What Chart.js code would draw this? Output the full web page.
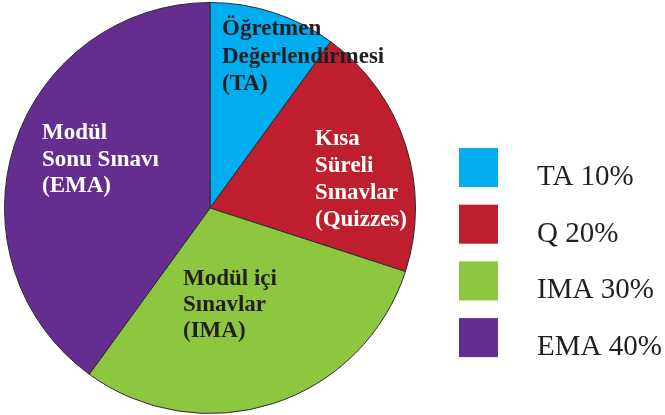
<!DOCTYPE html>
<html>
<head>
<meta charset="utf-8">
<script src="https://cdn.jsdelivr.net/npm/chart.js@4"></script>
<style>
  html, body { margin: 0; padding: 0; background: #fff; }
  #wrap { width: 665px; height: 415px; position: relative; }
</style>
</head>
<body>
<div id="wrap"><canvas id="pie"></canvas></div>
<script>
(function () {
  "use strict";

  // ── Data ──────────────────────────────────────────────
  var categories = ["TA", "Q", "IMA", "EMA"];
  var shares = [10, 20, 30, 40];
  var sliceLabels = [
    ["Öğretmen", "Değerlendirmesi", "(TA)"],
    ["Kısa", "Süreli", "Sınavlar", "(Quizzes)"],
    ["Modül içi", "Sınavlar", "(IMA)"],
    ["Modül", "Sonu Sınavı", "(EMA)"]
  ];

  // ── Styling / layout ──────────────────────────────────
  var colors = ["#00aeef", "#be1e2d", "#8dc63f", "#662d91"];
  var labelInk = ["#231f20", "#ffffff", "#231f20", "#ffffff"];
  // offsets of first baseline from pie centre, and line height
  var labelPlace = [
    { dx: 12, dy: -173, lh: 27.5 },
    { dx: 105, dy: -63, lh: 27 },
    { dx: -27, dy: 77, lh: 26 },
    { dx: -168, dy: -69, lh: 26.5 }
  ];
  var serif = '"Liberation Serif", "Times New Roman", serif';

  var sliceText = {
    id: "sliceText",
    afterDatasetsDraw: function (chart) {
      var ctx = chart.ctx;
      var arcs = chart.getDatasetMeta(0).data;
      ctx.save();
      ctx.font = "bold 23px " + serif;
      ctx.textAlign = "left";
      ctx.textBaseline = "alphabetic";
      arcs.forEach(function (arc, i) {
        var p = labelPlace[i];
        ctx.fillStyle = labelInk[i];
        sliceLabels[i].forEach(function (line, j) {
          ctx.fillText(line, arc.x + p.dx, arc.y + p.dy + j * p.lh);
        });
      });
      ctx.restore();
    }
  };

  // Legend: square swatches with serif text on the right.
  var sideLegend = {
    id: "sideLegend",
    afterDraw: function (chart) {
      var ctx = chart.ctx;
      var x0 = 459, y0 = 148, box = 39, step = 56.7;
      ctx.save();
      ctx.font = "29px " + serif;
      ctx.textBaseline = "alphabetic";
      chart.data.labels.forEach(function (lab, i) {
        var y = y0 + i * step;
        ctx.fillStyle = colors[i];
        ctx.fillRect(x0, y, box, box);
        ctx.fillStyle = "#231f20";
        ctx.fillText(lab + " " + shares[i] + "%", 537, y + box - 2);
      });
      ctx.restore();
    }
  };

  new Chart(document.getElementById("pie"), {
    type: "pie",
    data: {
      labels: categories,
      datasets: [{
        data: shares,
        backgroundColor: colors,
        borderColor: "#2d2d2d",
        borderWidth: 1
      }]
    },
    options: {
      responsive: true,
      maintainAspectRatio: false,
      devicePixelRatio: 1,
      animation: false,
      layout: { padding: { left: 4, top: 2, right: 249, bottom: 1 } },
      plugins: { legend: { display: false }, tooltip: { enabled: false } }
    },
    plugins: [sliceText, sideLegend]
  });
})();
</script>
</body>
</html>
